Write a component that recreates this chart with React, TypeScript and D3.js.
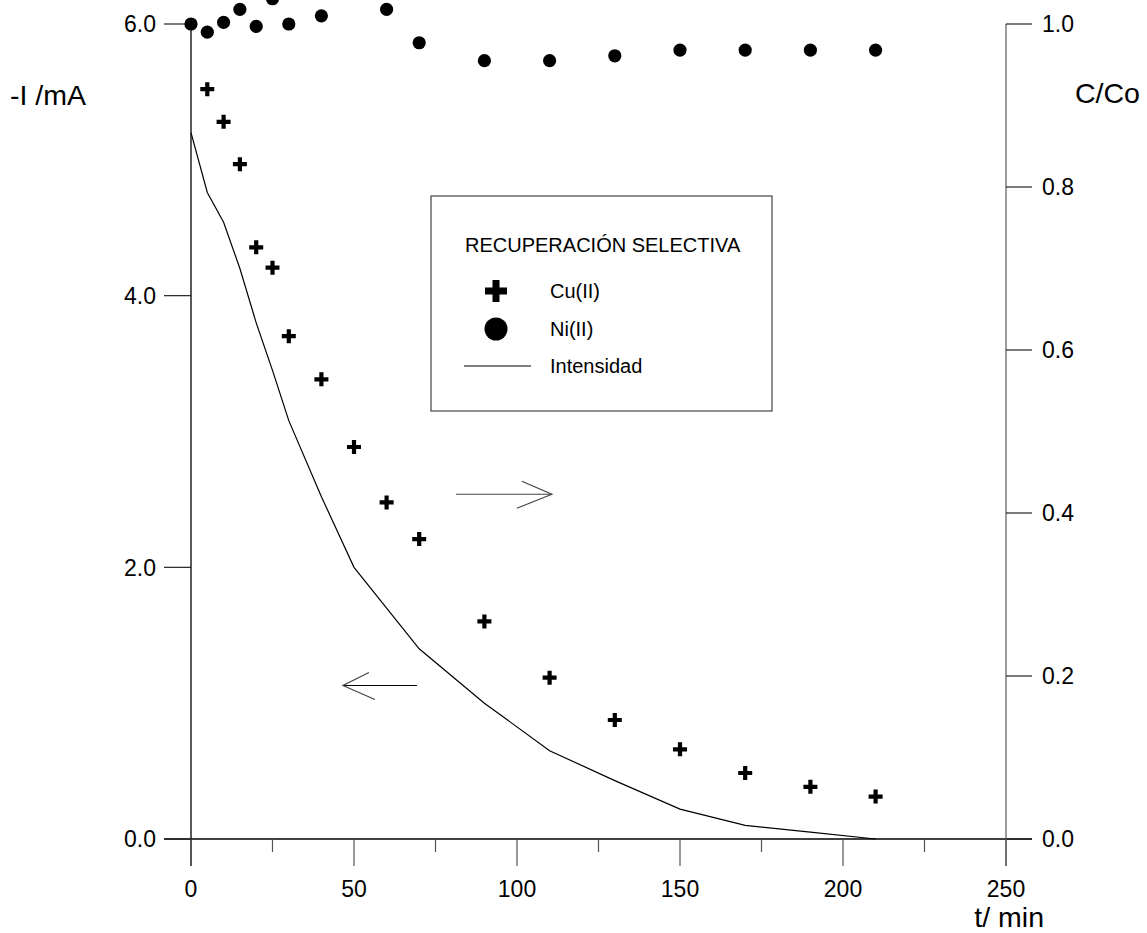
import React from "react";
import * as d3 from "d3";

// tiempo (min)
const times = [0, 5, 10, 15, 20, 25, 30, 40, 50, 60, 70, 90, 110, 130, 150, 170, 190, 210];

// C/Co Ni(II)
const niTimes = [0, 5, 10, 15, 20, 25, 30, 40, 60, 70, 90, 110, 130, 150, 170, 190, 210];
const niValues = [1.0, 0.99, 1.002, 1.018, 0.997, 1.031, 1.0, 1.01, 1.018, 0.977, 0.955, 0.955, 0.961, 0.968, 0.968, 0.968, 0.968];

// C/Co Cu(II)
const cuTimes = [5, 10, 15, 20, 25, 30, 40, 50, 60, 70, 90, 110, 130, 150, 170, 190, 210];
const cuValues = [0.92, 0.88, 0.828, 0.726, 0.701, 0.617, 0.564, 0.481, 0.413, 0.368, 0.267, 0.198, 0.146, 0.11, 0.081, 0.064, 0.052];

// -I (mA)
const intensity = [5.2, 4.76, 4.54, 4.2, 3.8, 3.45, 3.08, 2.52, 2.0, 1.7, 1.4, 1.0, 0.65, 0.43, 0.22, 0.1, 0.05, 0.0];

const xTicks = [0, 50, 100, 150, 200, 250];
const xMinor = [25, 75, 125, 175, 225];
const leftTicks = [0, 2, 4, 6];
const rightTicks = [0, 0.2, 0.4, 0.6, 0.8, 1.0];

const legendItems = ["Cu(II)", "Ni(II)", "Intensidad"];

const width = 1147;
const height = 933;
const font = "'Liberation Sans', Arial, Helvetica, sans-serif";

export default function App() {
  const x = d3.scaleLinear().domain([0, 250]).range([191, 1006]);
  const yL = d3.scaleLinear().domain([0, 6]).range([839, 24]);
  const yR = d3.scaleLinear().domain([0, 1]).range([839, 24]);

  const line = d3
    .line<number>()
    .x((d, i) => x(times[i]))
    .y((d) => yL(d));

  const cross = (cx: number, cy: number, s: number, w: number) =>
    `M${cx - s},${cy - w}H${cx - w}V${cy - s}H${cx + w}V${cy - w}H${cx + s}V${cy + w}H${cx + w}V${cy + s}H${cx - w}V${cy + w}H${cx - s}Z`;

  // annotation arrows (data coords)
  const rArrow = { x1: x(81.3), x2: x(110.7), y: yR(0.423) };
  const lArrow = { x1: x(69.3), x2: x(46.6), y: yL(1.13) };

  return (
    <svg
      width={width}
      height={height}
      style={{ position: "absolute", left: 0, top: 0, background: "#fff" }}
      fontFamily={font}
    >
      {/* axes */}
      <line x1={164} x2={1032} y1={yL(0)} y2={yL(0)} stroke="#000" strokeWidth={1.3} />
      <line x1={x(0)} x2={x(0)} y1={yL(6)} y2={yL(0) + 27} stroke="#000" strokeWidth={1.3} />
      <line x1={x(250)} x2={x(250)} y1={yR(1)} y2={yR(0) + 27} stroke="#666" strokeWidth={1.3} />

      {xTicks.map((t) => (
        <g key={t}>
          <line x1={x(t)} x2={x(t)} y1={yL(0)} y2={yL(0) + 27} stroke="#555" strokeWidth={1.2} />
          <text x={x(t)} y={897} fontSize={23} textAnchor="middle">
            {t}
          </text>
        </g>
      ))}
      {xMinor.map((t) => (
        <line key={t} x1={x(t)} x2={x(t)} y1={yL(0)} y2={yL(0) + 13} stroke="#555" strokeWidth={1.2} />
      ))}

      {leftTicks.map((v) => (
        <g key={v}>
          <line x1={164} x2={x(0)} y1={yL(v)} y2={yL(v)} stroke="#222" strokeWidth={1.2} />
          <text x={156} y={yL(v)} dy="0.36em" fontSize={23} textAnchor="end">
            {v.toFixed(1)}
          </text>
        </g>
      ))}
      {rightTicks.map((v) => (
        <g key={v}>
          <line x1={x(250)} x2={1032} y1={yR(v)} y2={yR(v)} stroke="#222" strokeWidth={1.2} />
          <text x={1042} y={yR(v)} dy="0.36em" fontSize={23}>
            {v.toFixed(1)}
          </text>
        </g>
      ))}

      <text x={10} y={95} dy="0.36em" fontSize={28.5}>-I /mA</text>
      <text x={1075} y={93} dy="0.36em" fontSize={28.5}>C/Co</text>
      <text x={1044} y={927} fontSize={28.5} textAnchor="end">t/ min</text>

      {/* intensity */}
      <path d={line(intensity) || ""} fill="none" stroke="#000" strokeWidth={1.2} />

      {/* Cu(II) */}
      {cuTimes.map((t, i) => (
        <path key={t} d={cross(x(t), yR(cuValues[i]), 7, 2.1)} fill="#000" />
      ))}

      {/* Ni(II) */}
      {niTimes.map((t, i) => (
        <circle key={t} cx={x(t)} cy={yR(niValues[i])} r={6.6} fill="#000" />
      ))}

      {/* arrows */}
      <g stroke="#444" strokeWidth={1.2} fill="none">
        <line x1={rArrow.x1} x2={rArrow.x2} y1={rArrow.y} y2={rArrow.y} />
        <polyline points={`${rArrow.x2 - 30},${rArrow.y - 13} ${rArrow.x2},${rArrow.y} ${rArrow.x2 - 35},${rArrow.y + 14}`} />
        <line x1={lArrow.x1} x2={lArrow.x2} y1={lArrow.y} y2={lArrow.y} stroke="#000" />
        <polyline points={`${lArrow.x2 + 26},${lArrow.y - 13} ${lArrow.x2},${lArrow.y} ${lArrow.x2 + 32},${lArrow.y + 14}`} />
      </g>

      {/* legend */}
      <g>
        <rect x={431} y={196} width={341} height={215} fill="#fff" stroke="#444" strokeWidth={1.2} />
        <text x={465} y={245} dy="0.36em" fontSize={20}>RECUPERACIÓN SELECTIVA</text>
        <path d={cross(496, 291, 11, 3.5)} fill="#000" />
        <circle cx={496} cy={329} r={11.5} fill="#000" />
        <line x1={464} x2={531} y1={366} y2={366} stroke="#000" strokeWidth={1.2} />
        {legendItems.map((s, i) => (
          <text key={s} x={550} y={291 + i * 37.5} dy="0.36em" fontSize={20}>
            {s}
          </text>
        ))}
      </g>
    </svg>
  );
}
